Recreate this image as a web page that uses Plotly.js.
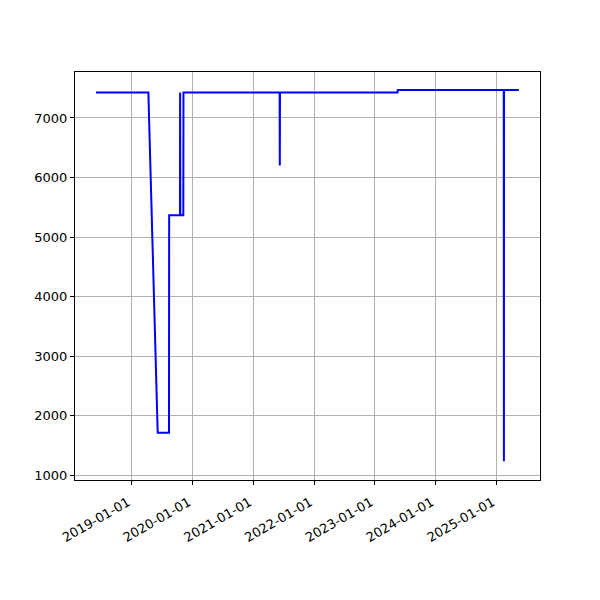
<!DOCTYPE html>
<html>
<head>
<meta charset="utf-8">
<script src="https://cdn.plot.ly/plotly-3.0.1.min.js"></script>
<style>html,body{margin:0;padding:0;background:#fff;}</style>
</head>
<body>
<div id="chart" style="width:600px;height:600px;"></div>
<script>
const dates = ['2018-05-30','2019-04-10','2019-06-05','2019-08-12','2019-08-13','2019-10-17','2019-10-18','2019-10-19','2019-11-06','2019-11-07','2021-06-07','2021-06-08','2021-06-09','2023-05-17','2023-05-18','2025-02-13','2025-02-14','2025-02-15','2025-05-15'];
const values = [7430,7430,1710,1710,5365,5365,7430,5365,5365,7430,7430,6200,7430,7430,7470,7470,1230,7470,7470];
const xTicks = ['2019-01-01','2020-01-01','2021-01-01','2022-01-01','2023-01-01','2024-01-01','2025-01-01'];
const yTicks = [1000,2000,3000,4000,5000,6000,7000];

const trace = {
  x: dates, y: values, type: 'scatter', mode: 'lines',
  line: {color: '#0000ff', width: 2}
};
const layout = {
  width: 600, height: 600,
  margin: {l: 75, r: 60, t: 72, b: 120},
  paper_bgcolor: '#fff', plot_bgcolor: '#fff',
  font: {family: 'DejaVu Sans', size: 13, color: '#000'},
  showlegend: false,
  xaxis: {
    type: 'date', range: ['2018-01-24','2025-09-19'],
    tickvals: xTicks, ticktext: xTicks, tickangle: -30,
    ticklabelshift: -4, ticklabelstandoff: 5,
    showgrid: true, gridcolor: '#b0b0b0', gridwidth: 1,
    showline: true, linecolor: '#000', linewidth: 1, mirror: true,
    ticks: 'outside', ticklen: 4, tickcolor: '#000', zeroline: false
  },
  yaxis: {
    range: [916, 7773], tickvals: yTicks,
    showgrid: true, gridcolor: '#b0b0b0', gridwidth: 1,
    showline: true, linecolor: '#000', linewidth: 1, mirror: true,
    ticks: 'outside', ticklen: 4, tickcolor: '#000', zeroline: false
  }
};
Plotly.newPlot('chart', [trace], layout, {displayModeBar: false, staticPlot: true});
</script>
</body>
</html>
